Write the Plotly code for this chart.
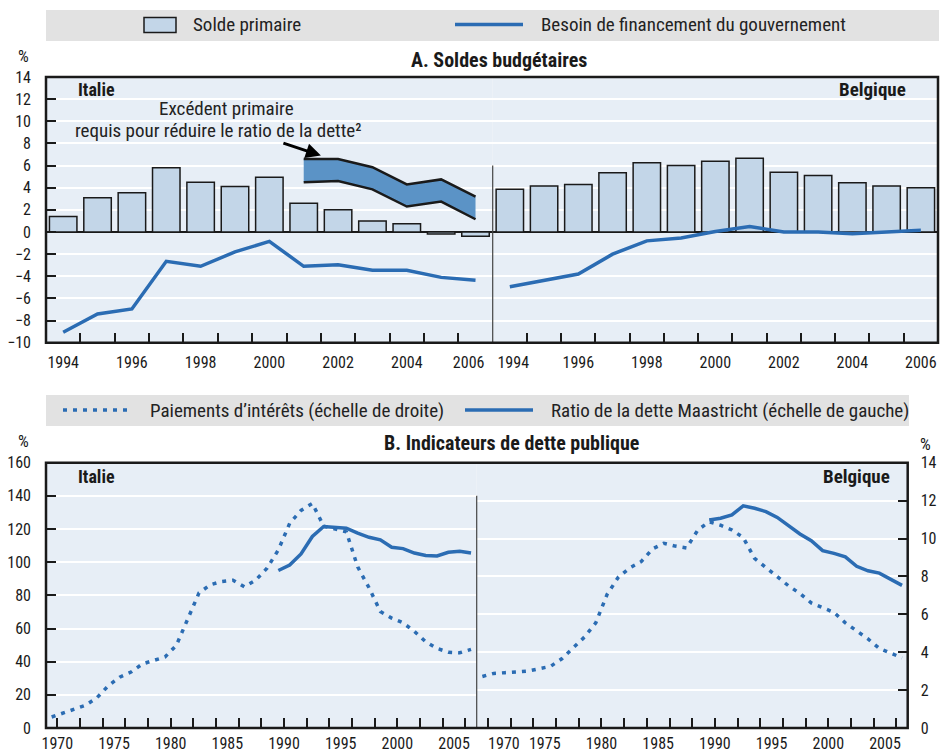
import plotly.graph_objects as go

# ---------------- DATA ----------------
years_a = list(range(1994, 2007))
ita_primary = [1.4, 3.1, 3.55, 5.8, 4.5, 4.1, 4.95, 2.6, 2.0, 1.0, 0.75, -0.18, -0.38]
ita_borrowing = [-9.05, -7.4, -6.95, -2.65, -3.1, -1.8, -0.85, -3.1, -2.95, -3.45, -3.45, -4.1, -4.35]
bel_primary = [3.85, 4.15, 4.3, 5.35, 6.25, 6.0, 6.4, 6.65, 5.4, 5.1, 4.45, 4.15, 4.0]
bel_borrowing = [-4.95, -4.35, -3.8, -2.0, -0.8, -0.55, 0.05, 0.5, 0.0, 0.0, -0.15, 0.0, 0.15]

req_years = [2001, 2002, 2003, 2004, 2005, 2006]
req_upper = [6.6, 6.6, 5.85, 4.3, 4.75, 3.2]
req_lower = [4.5, 4.6, 3.85, 2.3, 2.75, 1.15]

years_int = list(range(1969, 2007))
ita_interest = [0.58, 0.79, 0.98, 1.2, 1.6, 2.23, 2.68, 2.95, 3.38, 3.55, 3.75, 4.36, 5.8, 7.13,
                7.56, 7.73, 7.8, 7.45, 7.8, 8.43, 9.4, 10.8, 11.48, 11.85, 10.65, 10.49, 10.35,
                8.5, 7.4, 6.15, 5.8, 5.55, 5.1, 4.55, 4.2, 4.0, 3.97, 4.15]
bel_interest = [2.72, 2.88, 2.92, 2.94, 3.0, 3.13, 3.25, 3.65, 4.2, 4.8, 5.55, 7.05, 7.97, 8.45,
                8.78, 9.45, 9.75, 9.6, 9.5, 10.45, 10.88, 10.7, 10.45, 10.05, 8.95, 8.45, 8.0,
                7.5, 7.1, 6.6, 6.35, 6.1, 5.55, 5.15, 4.7, 4.2, 3.95, 3.7]

years_debt = list(range(1989, 2007))
ita_debt = [95, 98.3, 105, 115.5, 121.5, 121, 120.5, 117.5, 115, 113.5, 109, 108.2, 105.5,
            104, 103.8, 106, 106.6, 105.5]
bel_debt = [125.5, 126.5, 128.5, 134, 132.5, 130.5, 127, 121.7, 117, 113, 107, 105.3, 103.2,
            97.5, 94.8, 93.4, 89.4, 86]

ticks_a = list(range(1994, 2007, 2))
ticks_b_labels = list(range(1970, 2006, 5))
ticks_b_marks = list(range(1970, 2007, 2))

# ---------------- STYLE ----------------
FONT = "Liberation Sans Narrow, Arial Narrow, Roboto Condensed, Liberation Sans, sans-serif"
BLUE = "#2b6cb3"
BAR = "#c3d6e8"
BAND = "#5b93c6"
BG = "#e7eef6"
DARK = "#1a1a1a"
GRAY = "#e2e2e2"
W, H = 943, 754
L, R, T, B = 46, 5, 77, 26
PW, PH = W - L - R, H - T - B
MID = 0.5  # annual values plotted at mid-year in panel B


def px(x):
    return (x - L) / PW


def py(y):
    return (H - B - y) / PH


A_BOT = py(342.7)
B_TOP = py(462.7)
A_SPLIT = px(492.7)
B_SPLIT = px(476.7)
B_RIGHT = px(907.7)

# label positions: labels at the junction of the two country panels are nudged apart (as in original)
ita_a_pos = list(ticks_a)
ita_a_pos[-1] = ita_a_pos[-1] - 0.2
bel_a_pos = list(ticks_a)
bel_a_pos[0] = bel_a_pos[0] + 0.1
bel_b_pos = list(ticks_b_labels)
bel_b_pos[0] = bel_b_pos[0] + 1.4

fig = go.Figure()

# Panel A - Italy
fig.add_trace(go.Bar(x=years_a, y=ita_primary, marker=dict(color=BAR, line=dict(color=DARK, width=1.5)),
                     width=0.8, xaxis="x", yaxis="y", name="Solde primaire"))
fig.add_trace(go.Scatter(x=years_a, y=ita_borrowing, mode="lines", line=dict(color=BLUE, width=3.5),
                         xaxis="x", yaxis="y", name="Besoin de financement du gouvernement"))
fig.add_trace(go.Scatter(x=req_years, y=req_lower, mode="lines", line=dict(color=DARK, width=2.5),
                         xaxis="x", yaxis="y", showlegend=False))
fig.add_trace(go.Scatter(x=req_years, y=req_upper, mode="lines", line=dict(color=DARK, width=2.5),
                         fill="tonexty", fillcolor=BAND, xaxis="x", yaxis="y", showlegend=False))
# Panel A - Belgium
fig.add_trace(go.Bar(x=years_a, y=bel_primary, marker=dict(color=BAR, line=dict(color=DARK, width=1.5)),
                     width=0.8, xaxis="x2", yaxis="y2", showlegend=False))
fig.add_trace(go.Scatter(x=years_a, y=bel_borrowing, mode="lines", line=dict(color=BLUE, width=3.5),
                         xaxis="x2", yaxis="y2", showlegend=False))

# Panel B - Italy
fig.add_trace(go.Scatter(x=[y + MID for y in years_int], y=ita_interest, mode="lines",
                         line=dict(color=BLUE, width=3.5, dash="4px,6px"), xaxis="x3", yaxis="y4",
                         name="Paiements d’intérêts (échelle de droite)"))
fig.add_trace(go.Scatter(x=[y + MID for y in years_debt], y=ita_debt, mode="lines",
                         line=dict(color=BLUE, width=3.5), xaxis="x3", yaxis="y3",
                         name="Ratio de la dette Maastricht (échelle de gauche)"))
# Panel B - Belgium
fig.add_trace(go.Scatter(x=[y + MID for y in years_int], y=bel_interest, mode="lines",
                         line=dict(color=BLUE, width=3.5, dash="4px,6px"), xaxis="x4", yaxis="y5",
                         showlegend=False))
fig.add_trace(go.Scatter(x=[y + MID for y in years_debt], y=bel_debt, mode="lines",
                         line=dict(color=BLUE, width=3.5), xaxis="x4", yaxis="y6", showlegend=False))

tickfont = dict(family=FONT, size=16, color=DARK)

xa_common = dict(showgrid=False, zeroline=False, showline=False, ticks="outside", ticklen=0,
                 tickfont=tickfont, fixedrange=True)
minor_a = dict(tickvals=[y + 0.5 for y in years_a[:-1]], ticks="inside", ticklen=10,
               tickcolor=DARK, tickwidth=1.5)
minor_b = dict(tickvals=ticks_b_marks, ticks="inside", ticklen=10, tickcolor=DARK, tickwidth=1.5)

fig.update_layout(
    xaxis=dict(domain=[0, A_SPLIT], range=[1993.5, 2006.5], anchor="y", tickvals=ita_a_pos,
               ticktext=[str(y) for y in ticks_a], minor=minor_a, ticklabelstandoff=5, **xa_common),
    xaxis2=dict(domain=[A_SPLIT, 1], range=[1993.5, 2006.5], anchor="y2", tickvals=bel_a_pos,
                ticktext=[str(y) for y in ticks_a], minor=minor_a, ticklabelstandoff=5, **xa_common),
    xaxis3=dict(domain=[0, B_SPLIT], range=[1969, 2007], anchor="y3", tickvals=ticks_b_labels,
                ticktext=[str(y) for y in ticks_b_labels], minor=minor_b, ticklabelstandoff=1,
                **xa_common),
    xaxis4=dict(domain=[B_SPLIT, B_RIGHT], range=[1969, 2007], anchor="y5", tickvals=bel_b_pos,
                ticktext=[str(y) for y in ticks_b_labels], minor=minor_b, ticklabelstandoff=1,
                **xa_common),
    yaxis=dict(domain=[A_BOT, 1], range=[-10, 14], anchor="x", tickvals=list(range(-10, 15, 2)),
               ticks="inside", ticklen=10, tickcolor=DARK, tickwidth=1.5, tickfont=tickfont,
               ticklabelstandoff=14, showgrid=True, gridcolor="white", gridwidth=1.5,
               zeroline=True, zerolinecolor=DARK, zerolinewidth=1.5, showline=False),
    yaxis2=dict(domain=[A_BOT, 1], range=[-10, 14], anchor="x2", tickvals=list(range(-10, 15, 2)),
                ticks="", showticklabels=False, showgrid=True, gridcolor="white", gridwidth=1.5,
                zeroline=True, zerolinecolor=DARK, zerolinewidth=1.5, showline=False),
    yaxis3=dict(domain=[0, B_TOP], range=[0, 160], anchor="x3", tickvals=list(range(0, 161, 20)),
                ticks="inside", ticklen=10, tickcolor=DARK, tickwidth=1.5, tickfont=tickfont,
                ticklabelstandoff=14, showgrid=True, gridcolor="white", gridwidth=1.5,
                zeroline=False, showline=False),
    yaxis4=dict(domain=[0, B_TOP], range=[0, 14], anchor="x3", overlaying="y3", side="left",
                showticklabels=False, ticks="", showgrid=False, zeroline=False, showline=False),
    yaxis5=dict(domain=[0, B_TOP], range=[0, 14], anchor="x4", side="right",
                tickvals=list(range(0, 15, 2)), ticks="inside", ticklen=10, tickcolor=DARK,
                tickwidth=1.5, tickfont=tickfont, ticklabelstandoff=12, showgrid=True,
                gridcolor="white", gridwidth=1.5, zeroline=False, showline=False),
    yaxis6=dict(domain=[0, B_TOP], range=[0, 160], anchor="x4", overlaying="y5", side="right",
                showticklabels=False, ticks="", showgrid=False, zeroline=False, showline=False),
)

shapes = []
# legend strips
shapes.append(dict(type="rect", xref="paper", yref="paper", x0=px(46), x1=px(939), y0=py(41), y1=py(10),
                   fillcolor=GRAY, line=dict(width=0), layer="below"))
shapes.append(dict(type="rect", xref="paper", yref="paper", x0=px(46), x1=px(909), y0=py(426), y1=py(395),
                   fillcolor=GRAY, line=dict(width=0), layer="below"))
# legend icons
shapes.append(dict(type="rect", xref="paper", yref="paper", x0=px(144), x1=px(176), y0=py(32.5), y1=py(17.5),
                   fillcolor=BAR, line=dict(color=DARK, width=1.5)))
shapes.append(dict(type="line", xref="paper", yref="paper", x0=px(455), x1=px(523), y0=py(24.5), y1=py(24.5),
                   line=dict(color=BLUE, width=3.5)))
shapes.append(dict(type="line", xref="paper", yref="paper", x0=px(63), x1=px(133), y0=py(410), y1=py(410),
                   line=dict(color=BLUE, width=3.5, dash="4px,6px")))
shapes.append(dict(type="line", xref="paper", yref="paper", x0=px(465), x1=px(533), y0=py(410), y1=py(410),
                   line=dict(color=BLUE, width=3.5)))
# dividers between countries
shapes.append(dict(type="line", xref="x2 domain", yref="y2", x0=0, x1=0, y0=-10, y1=6,
                   line=dict(color="#444", width=1.2)))
shapes.append(dict(type="line", xref="x4 domain", yref="y3", x0=0, x1=0, y0=0, y1=140,
                   line=dict(color="#444", width=1.2)))
# panel frames
shapes.append(dict(type="rect", xref="paper", yref="paper", x0=0, x1=1, y0=A_BOT, y1=1,
                   line=dict(color=DARK, width=2.5)))
shapes.append(dict(type="rect", xref="paper", yref="paper", x0=0, x1=B_RIGHT, y0=0, y1=B_TOP,
                   line=dict(color=DARK, width=2.5)))

ann = []


def text(x, y, s, size=16, bold=False, xanchor="center", color=DARK):
    ann.append(dict(xref="paper", yref="paper", x=px(x), y=py(y), text=("<b>%s</b>" % s) if bold else s,
                    showarrow=False, xanchor=xanchor, yanchor="middle",
                    font=dict(family=FONT, size=size, color=color)))


text(191, 25, "Solde primaire", 19, xanchor="left", color="#222")
text(539, 25, "Besoin de financement du gouvernement", 19, xanchor="left", color="#222")
text(148, 410, "Paiements d’intérêts (échelle de droite)", 19, xanchor="left", color="#222")
text(549, 410, "Ratio de la dette Maastricht (échelle de gauche)", 19, xanchor="left", color="#222")
text(499, 60, "A. Soldes budgétaires", 20, bold=True)
text(511, 443, "B. Indicateurs de dette publique", 20, bold=True)
text(23, 56, "%", 17)
text(23, 441, "%", 17)
text(925, 444, "%", 17)
text(76, 90, "Italie", 18, bold=True, xanchor="left")
text(908, 90, "Belgique", 19, bold=True, xanchor="right")
text(76, 477, "Italie", 18, bold=True, xanchor="left")
text(892, 477, "Belgique", 19, bold=True, xanchor="right")
text(226, 108, "Excédent primaire", 19, color="#222")
text(218, 130, "requis pour réduire le ratio de la dette²", 19, color="#222")

ann.append(dict(xref="x", yref="y", x=2001.5, y=6.9, ax=-39, ay=-13, text="", showarrow=True,
                arrowhead=2, arrowsize=1, arrowwidth=3, arrowcolor="black"))

fig.update_layout(
    width=W, height=H, margin=dict(l=L, r=R, t=T, b=B, autoexpand=False),
    paper_bgcolor="white", plot_bgcolor=BG, showlegend=False, barmode="overlay",
    shapes=shapes, annotations=ann, font=dict(family=FONT, size=16, color=DARK),
)

fig.write_html("out.html", config={"displayModeBar": False},
               post_script="document.body.style.margin='0';")
